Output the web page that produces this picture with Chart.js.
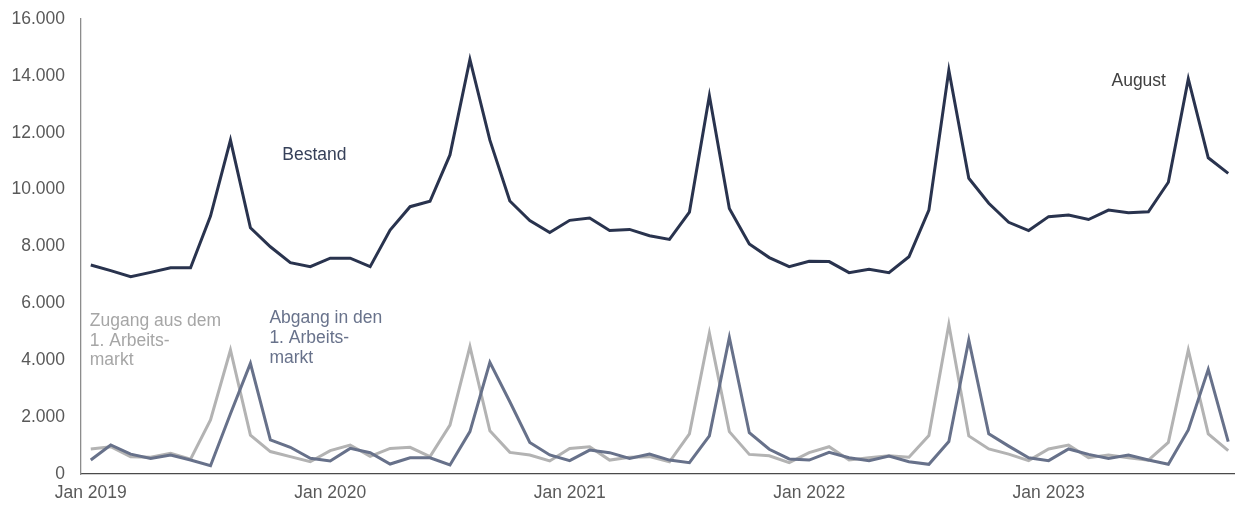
<!DOCTYPE html>
<html>
<head>
<meta charset="utf-8">
<script src="https://cdn.jsdelivr.net/npm/chart.js@4"></script>
<style>
  html, body { margin: 0; padding: 0; background: #fff; }
  #wrap { width: 1235px; height: 506px; }
</style>
</head>
<body>
<div id="wrap"><canvas id="myChart"></canvas></div>
<script>
// monthly values, Jan 2019 .. Oct 2023
const bestand = [7350, 7150, 6940, 7090, 7250, 7250, 9070, 11740, 8660, 7990, 7430, 7290,
  7590, 7590, 7290, 8580, 9400, 9590, 11220, 14580, 11740, 9600, 8910, 8490,
  8920, 9000, 8560, 8600, 8380, 8250, 9210, 13300, 9340, 8090, 7610, 7290,
  7480, 7470, 7080, 7200, 7080, 7640, 9280, 14200, 10400, 9520, 8850, 8560,
  9050, 9110, 8950, 9280, 9190, 9220, 10260, 13890, 11120, 10570];

const zugang = [880, 960, 610, 590, 730, 520, 1900, 4360, 1370, 790, 610, 430,
  820, 1020, 620, 900, 940, 610, 1720, 4480, 1520, 760, 670, 460,
  900, 960, 490, 590, 610, 430, 1410, 4950, 1490, 690, 640, 400,
  750, 960, 490, 570, 640, 590, 1350, 5260, 1340, 880, 700, 470,
  880, 1020, 570, 670, 570, 490, 1110, 4360, 1410, 820];

const abgang = [490, 1020, 700, 550, 670, 490, 290, 2120, 3890, 1200, 940, 550,
  460, 900, 750, 350, 570, 570, 320, 1490, 3930, 2540, 1110, 670,
  470, 840, 750, 550, 700, 490, 400, 1340, 4800, 1450, 870, 530,
  490, 760, 570, 470, 630, 430, 340, 1140, 4710, 1410, 980, 570,
  470, 880, 690, 550, 670, 490, 340, 1550, 3680, 1140];

const xTicks = [0, 12, 24, 36, 48];
const xTickLabels = ['Jan 2019', 'Jan 2020', 'Jan 2021', 'Jan 2022', 'Jan 2023'];

// text labels inside the plot: [text lines, x index, y value, colour]
const labels = [
  [['Bestand'], 9.6, 11200, '#364059'],
  [['August'], 51.15, 13830, '#404040'],
  [['Zugang aus dem', '1. Arbeits-', 'markt'], -0.05, 5380, '#a6a6a6'],
  [['Abgang in den', '1. Arbeits-', 'markt'], 8.95, 5480, '#68728b']
];

const FONT = 'Liberation Sans, Arial, sans-serif';

const punkte = arr => arr.map((v, i) => ({ x: i, y: v }));

const textPlugin = {
  id: 'texte',
  afterDatasetsDraw(chart) {
    const ctx = chart.ctx;
    const xs = chart.scales.x, ys = chart.scales.y;
    ctx.save();
    ctx.font = '17.5px ' + FONT;
    ctx.textAlign = 'left';
    ctx.textBaseline = 'middle';
    labels.forEach(([lines, xi, yv, col]) => {
      ctx.fillStyle = col;
      const px = xs.getPixelForValue(xi);
      const py = ys.getPixelForValue(yv);
      lines.forEach((t, k) => ctx.fillText(t, px, py + k * 19.8));
    });
    ctx.restore();
  }
};

new Chart(document.getElementById('myChart'), {
  type: 'line',
  data: {
    datasets: [
      { label: 'Bestand', data: punkte(bestand), borderColor: '#29334e', borderWidth: 3 },
      { label: 'Abgang in den 1. Arbeitsmarkt', data: punkte(abgang), borderColor: '#67718a', borderWidth: 3 },
      { label: 'Zugang aus dem 1. Arbeitsmarkt', data: punkte(zugang), borderColor: '#b3b3b3', borderWidth: 3 }
    ]
  },
  options: {
    responsive: true,
    maintainAspectRatio: false,
    animation: false,
    elements: { point: { radius: 0 }, line: { tension: 0, borderJoinStyle: 'miter' } },
    layout: { padding: { top: 19, right: 0, bottom: 0, left: 0 } },
    plugins: { legend: { display: false }, tooltip: { enabled: false } },
    scales: {
      x: {
        type: 'linear',
        min: -0.49,
        max: 57.34,
        grid: { display: false, drawTicks: false },
        border: { color: '#4a4a4a', width: 1.3 },
        afterBuildTicks: axis => { axis.ticks = xTicks.map(v => ({ value: v })); },
        afterFit: axis => { axis.height = 32; },
        ticks: {
          autoSkip: false,
          maxRotation: 0,
          padding: 9,
          color: '#595959',
          font: { family: FONT, size: 17.5 },
          callback: v => xTickLabels[xTicks.indexOf(v)]
        }
      },
      y: {
        min: 0,
        max: 16000,
        grid: { display: false, drawTicks: false },
        border: { color: '#8c8c8c', width: 1.3 },
        afterFit: axis => { axis.width = 81; axis.paddingTop = 0; axis.paddingBottom = 0; },
        ticks: {
          stepSize: 2000,
          padding: 16,
          color: '#595959',
          font: { family: FONT, size: 17.5 },
          callback: v => v.toLocaleString('de-DE')
        }
      }
    }
  },
  plugins: [textPlugin]
});
</script>
</body>
</html>
